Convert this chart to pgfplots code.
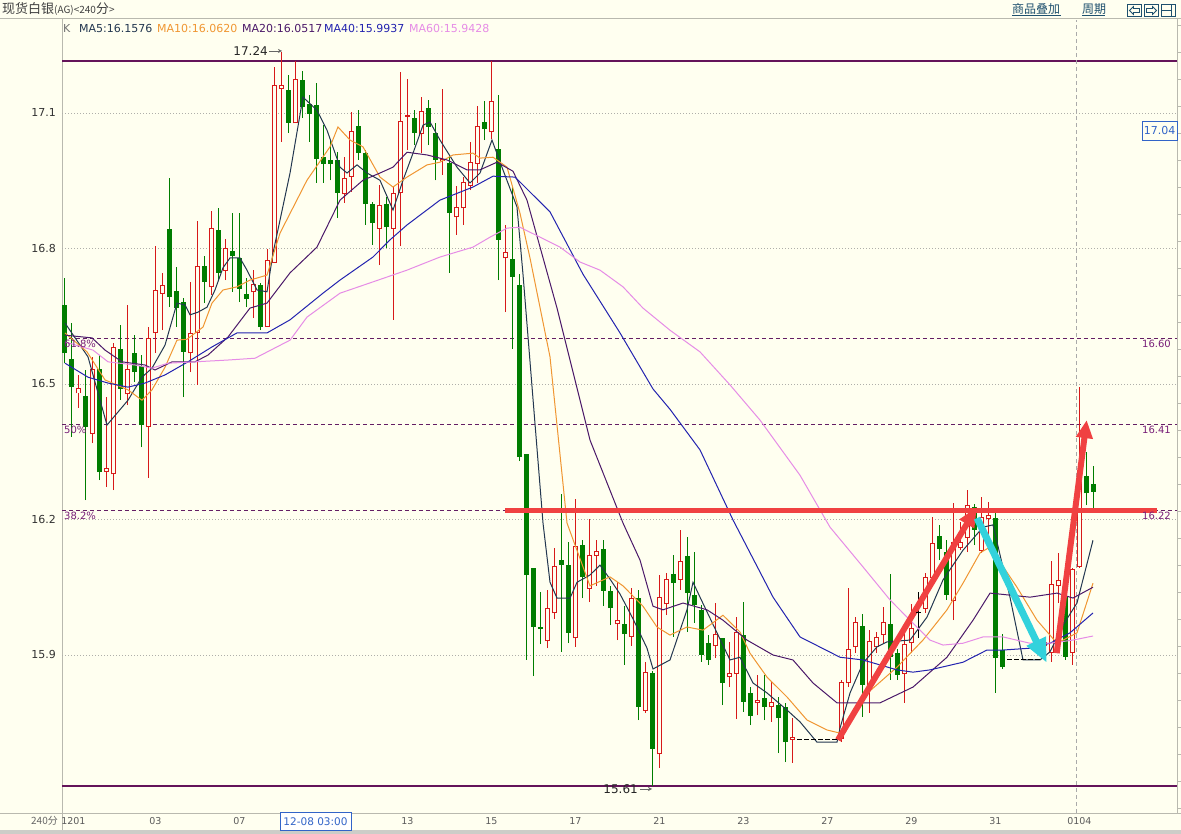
\documentclass[border=0pt]{standalone}
\usepackage{pgfplots}
\pgfplotsset{compat=1.18}
\usepackage{pgfplotstable}
\usepackage{fontspec}
\setmainfont{DejaVu Sans}
\newfontfamily\cjk{Noto Sans CJK SC}
\usetikzlibrary{arrows.meta}
\definecolor{bg}{RGB}{255,255,240}
\definecolor{cred}{RGB}{215,25,25}
\definecolor{cgreen}{RGB}{0,125,0}
\definecolor{ma5c}{RGB}{35,55,80}
\definecolor{ma10c}{RGB}{240,150,50}
\definecolor{ma20c}{RGB}{75,25,105}
\definecolor{ma40c}{RGB}{35,35,175}
\definecolor{ma60c}{RGB}{230,140,230}
\definecolor{hline}{RGB}{100,20,90}
\definecolor{fibc}{RGB}{100,30,100}
\definecolor{fibtxt}{RGB}{120,30,120}
\definecolor{tred}{RGB}{240,65,65}
\definecolor{tcyan}{RGB}{50,210,220}
\definecolor{framegray}{RGB}{185,185,175}
\definecolor{bandgray}{RGB}{205,205,200}
\definecolor{gridgray}{RGB}{175,175,170}
\definecolor{tickgray}{RGB}{50,50,50}
\definecolor{linkc}{RGB}{30,80,110}
\definecolor{boxblue}{RGB}{50,100,200}
\definecolor{crossgray}{RGB}{170,170,170}

% up (red, hollow) candles: index open high low close
\pgfplotstableread{
i o h l c
2 16.480 16.520 16.447 16.489
4 16.391 16.560 16.369 16.531
6 16.307 16.471 16.272 16.312
7 16.301 16.591 16.265 16.580
9 16.478 16.675 16.453 16.533
12 16.405 16.626 16.292 16.600
13 16.613 16.806 16.569 16.706
14 16.701 16.746 16.619 16.719
18 16.569 16.726 16.526 16.611
19 16.613 16.861 16.498 16.759
21 16.715 16.883 16.697 16.845
23 16.752 16.821 16.730 16.801
27 16.704 16.752 16.646 16.721
29 16.628 16.799 16.628 16.774
30 16.768 17.202 16.768 17.160
31 17.155 17.235 17.036 17.160
33 17.078 17.215 17.078 17.175
40 16.921 17.002 16.901 16.954
41 16.960 17.102 16.925 17.060
45 16.845 16.940 16.763 16.896
47 16.845 16.936 16.642 16.921
48 16.923 17.190 16.805 17.082
49 17.093 17.175 17.018 17.095
51 17.054 17.135 17.011 17.104
54 16.994 17.153 16.963 16.998
56 16.870 16.938 16.830 16.890
57 16.890 16.958 16.852 16.945
58 16.940 17.036 16.929 16.991
59 16.989 17.115 16.945 17.069
61 17.058 17.215 17.042 17.126
63 16.779 16.852 16.659 16.792
69 15.931 16.044 15.915 16.004
70 15.993 16.137 15.980 16.095
73 15.938 16.245 15.918 16.141
75 16.048 16.201 16.017 16.121
76 16.121 16.154 16.053 16.130
79 15.969 16.062 15.933 15.977
81 15.942 16.048 15.920 16.024
83 15.778 15.884 15.772 15.862
85 15.681 16.077 15.650 16.028
86 16.013 16.081 15.988 16.068
88 16.068 16.177 16.044 16.106
93 15.920 16.015 15.893 15.946
95 15.853 15.929 15.829 15.860
96 15.860 15.984 15.758 15.949
99 15.794 15.856 15.767 15.800
101 15.785 15.840 15.752 15.794
104 15.714 15.760 15.661 15.718
111 15.716 15.845 15.707 15.838
112 15.838 16.048 15.829 15.913
113 15.918 15.984 15.904 15.971
115 15.829 15.955 15.772 15.929
116 15.918 15.951 15.904 15.938
117 15.946 16.006 15.927 15.973
120 15.860 15.951 15.794 15.924
121 15.927 16.013 15.904 15.958
123 16.004 16.082 15.993 16.071
124 16.071 16.206 16.066 16.146
127 16.020 16.237 15.977 16.148
128 16.139 16.194 16.132 16.150
129 16.161 16.265 16.128 16.232
131 16.132 16.250 16.126 16.205
132 16.203 16.239 16.132 16.208
140 15.920 15.933 15.911 15.927
141 15.905 16.108 15.885 16.057
142 16.053 16.126 16.015 16.066
144 15.905 16.093 15.878 16.090
145 16.095 16.493 16.093 16.292
}\redc

% down (green, filled) candles
\pgfplotstableread{
i o h l c
0 16.675 16.735 16.546 16.569
1 16.555 16.635 16.383 16.493
3 16.473 16.531 16.243 16.405
5 16.533 16.564 16.287 16.305
8 16.578 16.631 16.465 16.489
10 16.569 16.609 16.504 16.526
11 16.540 16.564 16.360 16.409
15 16.843 16.956 16.670 16.692
16 16.706 16.759 16.626 16.668
17 16.681 16.690 16.471 16.571
20 16.761 16.783 16.679 16.726
22 16.841 16.889 16.730 16.746
24 16.794 16.878 16.704 16.783
25 16.779 16.878 16.681 16.710
26 16.699 16.735 16.670 16.688
28 16.719 16.724 16.619 16.626
32 17.151 17.184 17.056 17.078
34 17.173 17.193 17.089 17.113
35 17.120 17.140 17.036 17.098
36 17.118 17.166 16.945 16.998
37 17.002 17.073 16.945 16.987
38 16.996 17.040 16.951 16.987
39 16.996 17.013 16.868 16.923
42 17.071 17.106 16.996 17.011
43 17.011 17.018 16.852 16.898
44 16.898 16.903 16.808 16.856
46 16.898 16.914 16.801 16.847
50 17.089 17.106 17.029 17.056
52 17.111 17.129 17.029 17.069
53 17.056 17.078 16.951 16.996
55 16.989 17.007 16.746 16.878
60 17.080 17.126 17.040 17.064
62 17.020 17.140 16.730 16.819
64 16.777 16.936 16.577 16.737
65 16.719 16.743 16.329 16.338
66 16.345 16.345 15.889 16.077
67 16.093 16.093 15.853 15.962
68 15.962 16.040 15.924 15.957
71 16.110 16.256 15.907 16.099
72 16.099 16.150 15.926 15.949
74 16.143 16.154 16.026 16.073
77 16.134 16.154 16.008 16.042
78 16.042 16.053 15.966 16.004
80 15.969 16.008 15.878 15.946
82 16.026 16.044 15.756 15.785
84 15.860 15.865 15.610 15.692
87 16.079 16.121 15.940 16.059
89 16.119 16.161 15.951 16.037
90 16.033 16.128 15.971 16.011
91 16.000 16.011 15.885 15.900
92 15.927 15.944 15.878 15.889
94 15.938 15.938 15.789 15.838
97 15.944 16.017 15.774 15.796
98 15.816 15.829 15.745 15.765
100 15.805 15.856 15.756 15.785
102 15.789 15.807 15.683 15.760
103 15.785 15.794 15.663 15.707
114 15.964 15.991 15.763 15.834
118 15.969 16.079 15.845 15.896
119 15.904 15.913 15.845 15.856
125 16.163 16.188 16.110 16.134
126 16.128 16.154 16.022 16.033
130 16.228 16.234 16.143 16.177
133 16.203 16.214 15.816 15.893
134 15.911 15.946 15.869 15.873
143 16.028 16.028 15.889 15.896
146 16.296 16.349 16.232 16.258
147 16.279 16.318 16.223 16.261
}\greenc

% flat (no change) candles
\pgfplotstableread{
i h l c
105 15.712 15.712 15.712
106 15.712 15.712 15.712
107 15.712 15.712 15.712
108 15.712 15.712 15.712
109 15.712 15.712 15.712
110 15.712 15.712 15.712
122 16.040 15.938 15.995
135 15.889 15.889 15.889
136 15.889 15.889 15.889
137 15.889 15.889 15.889
138 15.889 15.889 15.889
139 15.889 15.889 15.889
}\flatc

\pgfplotstableread{
x y
0.14 16.635
3.43 16.560
6.14 16.409
9.14 16.464
11.14 16.515
12.57 16.535
14.43 16.586
16.14 16.679
17.29 16.675
18.0 16.653
19.14 16.659
20.43 16.670
21.57 16.708
22.71 16.757
23.71 16.779
25.14 16.779
26.14 16.752
27.57 16.708
29.0 16.704
29.86 16.790
32.29 16.967
34.14 17.135
36.14 17.106
37.57 17.062
39.43 16.980
40.43 16.967
41.86 16.985
43.29 16.967
45.14 16.951
47.0 16.885
48.43 16.951
49.86 17.011
51.29 17.073
52.29 17.080
53.71 17.040
56.14 16.980
58.0 16.945
59.43 16.967
61.14 17.040
62.71 16.974
64.71 16.892
65.57 16.743
67.0 16.467
68.43 16.192
69.43 16.061
70.43 16.026
72.29 16.026
73.29 16.061
75.14 16.077
76.57 16.099
78.0 16.068
79.43 16.035
81.29 15.980
83.29 15.915
84.14 15.869
86.57 15.889
89.0 16.000
89.86 16.061
90.86 16.028
93.29 15.949
95.14 15.889
96.57 15.895
98.43 15.838
100.43 15.816
103.29 15.778
105.14 15.752
107.57 15.707
110.43 15.707
110.86 15.738
112.29 15.816
114.14 15.882
116.14 15.918
117.57 15.929
120.86 15.933
123.29 15.984
125.57 16.066
128.43 16.132
131.29 16.183
132.71 16.188
135.14 16.028
137.0 15.889
139.43 15.889
140.86 15.907
142.71 15.966
144.71 16.015
147.0 16.154
}\maA

\pgfplotstableread{
x y
0.14 16.613
3.29 16.571
5.86 16.509
9.14 16.487
11.14 16.464
12.57 16.487
14.43 16.537
16.14 16.597
17.57 16.599
19.86 16.626
21.14 16.679
22.71 16.708
24.71 16.715
26.57 16.730
29.0 16.741
30.86 16.834
34.71 16.951
38.0 17.025
39.14 17.069
40.86 17.040
42.71 17.025
45.14 16.958
47.0 16.936
49.0 16.958
51.86 16.985
53.71 16.991
55.57 17.007
58.43 17.011
59.43 17.000
61.29 17.002
63.29 16.980
65.14 16.878
66.57 16.779
69.43 16.560
71.86 16.192
75.14 16.053
78.0 16.073
79.86 16.053
82.71 16.008
84.71 15.962
86.57 15.944
89.0 15.962
91.29 15.955
94.14 15.988
96.57 15.951
98.0 15.904
100.43 15.851
103.29 15.807
106.14 15.756
109.0 15.734
110.86 15.727
114.14 15.807
119.0 15.873
122.71 15.933
126.14 16.000
128.43 16.059
130.86 16.126
132.29 16.139
136.14 16.050
139.0 15.977
141.86 15.926
144.71 15.949
147.0 16.059
}\maB

\pgfplotstableread{
x y
0.14 16.608
4.0 16.602
5.86 16.575
8.29 16.549
11.57 16.542
13.0 16.531
15.43 16.549
18.71 16.549
20.57 16.564
23.43 16.604
26.57 16.668
29.0 16.679
32.29 16.746
36.14 16.803
39.43 16.907
42.71 16.951
45.14 16.967
47.0 16.980
49.0 17.013
51.86 17.007
54.71 16.996
57.57 16.974
59.43 16.974
61.86 16.991
64.14 16.971
66.14 16.907
70.43 16.668
75.14 16.376
79.86 16.192
82.29 16.110
84.14 16.008
85.57 16.000
88.43 16.015
91.86 16.000
94.14 15.977
97.57 15.933
101.29 15.900
104.14 15.889
107.0 15.838
110.43 15.794
116.57 15.794
121.29 15.829
126.14 15.895
129.86 15.977
132.29 16.037
138.0 16.028
141.86 16.037
144.14 16.026
147.0 16.050
}\maC

\pgfplotstableread{
x y
0.14 16.546
3.43 16.515
6.29 16.502
9.14 16.493
11.57 16.502
14.43 16.520
17.71 16.549
21.14 16.582
24.71 16.613
29.0 16.613
32.29 16.642
37.0 16.701
39.43 16.730
44.14 16.781
46.57 16.819
49.0 16.852
53.71 16.907
58.43 16.936
61.29 16.960
64.43 16.958
69.43 16.881
74.14 16.743
79.43 16.613
84.14 16.489
86.57 16.444
90.86 16.354
95.57 16.199
101.29 16.028
105.14 15.940
110.86 15.895
114.14 15.889
119.0 15.867
121.29 15.862
123.71 15.867
128.43 15.884
131.86 15.911
134.14 15.911
138.0 15.915
140.86 15.926
143.71 15.949
147.0 15.993
}\maD

\pgfplotstableread{
x y
0.14 16.593
4.14 16.575
6.29 16.549
10.14 16.542
12.57 16.535
14.86 16.546
18.71 16.549
23.43 16.553
27.29 16.557
32.29 16.597
34.71 16.648
39.43 16.701
44.14 16.726
49.0 16.752
53.71 16.781
58.43 16.803
60.86 16.825
63.29 16.845
65.14 16.847
68.0 16.825
70.86 16.803
73.71 16.770
76.57 16.752
79.86 16.715
82.71 16.668
86.57 16.619
90.86 16.571
95.14 16.498
99.43 16.420
105.14 16.298
109.43 16.183
114.14 16.095
118.0 16.022
120.86 15.977
123.71 15.933
125.57 15.922
128.43 15.926
131.29 15.940
134.14 15.940
138.0 15.926
140.86 15.926
144.14 15.933
147.0 15.942
}\maE

\begin{document}
\begin{tikzpicture}[x=1pt,y=1pt]
\useasboundingbox (0,0) rectangle (1181,834);
\fill[bg] (0,0) rectangle (1181,834);
\fill[bandgray] (0,0) rectangle (1181,4);
\draw[framegray] (0,815.5) -- (1181,815.5);
\draw[framegray] (0,21) -- (1181,21);
\draw[framegray] (62,4) -- (62,815.5);
\draw[framegray] (1177,21) -- (1177,815.5);
\foreach \yy in {809,782,755,728,701,674,647,620,593,566,539,512,485,458,431,404,377,350,323,296,269,242,215,188,161,134,107,80,53,26}
  \draw[framegray] (1177,\yy) -- (1181,\yy);

\begin{axis}[at={(62pt,21pt)}, anchor=south west, scale only axis,
  width=1115pt, height=793pt,
  xmin=-0.2857, xmax=159, ymin=15.5502, ymax=17.3058,
  axis line style={draw=none}, tick style={draw=none}, major tick length=0pt,
  ytick={15.9,16.2,16.5,16.8,17.1},
  yticklabels={15.9,16.2,16.5,16.8,17.1},
  yticklabel style={font=\fontsize{11}{11}\selectfont, text=tickgray, anchor=east, inner sep=0pt, xshift=-6pt},
  xtick={1.35,13.05,25.05,49.05,61.05,73.05,85.05,97.05,109.05,121.05,133.05,145.05},
  xticklabels={1201,03,07,13,15,17,21,23,27,29,31,0104},
  xticklabel style={font=\fontsize{9.5}{9.5}\selectfont, text=tickgray!80, anchor=north, inner sep=0pt, yshift=-4.5pt},
  ymajorgrids, grid style={gridgray, line width=0.8pt, dash pattern=on 1pt off 2pt},
]
% reference lines
\addplot[hline, line width=1.3pt, forget plot] coordinates {(-0.3,17.215) (159,17.215)};
\addplot[hline, line width=1.3pt, forget plot] coordinates {(-0.3,15.610) (159,15.610)};
\addplot[fibc, line width=1pt, dash pattern=on 4pt off 3pt, forget plot] coordinates {(-0.3,16.60) (159,16.60)};
\addplot[fibc, line width=1pt, dash pattern=on 4pt off 3pt, forget plot] coordinates {(-0.3,16.41) (159,16.41)};
\addplot[fibc, line width=1pt, dash pattern=on 4pt off 3pt, forget plot] coordinates {(-0.3,16.22) (159,16.22)};
\addplot[crossgray, line width=1pt, dash pattern=on 4pt off 3pt, forget plot] coordinates {(144.71,15.5502) (144.71,17.3058)};

% wicks
\addplot[draw=none, mark=none, forget plot, error bars/.cd, y dir=plus, y explicit, error mark=none,
  error bar style={draw=cgreen, line width=1pt}]
  table[x=i, y=l, y error plus expr=\thisrow{h}-\thisrow{l}] \greenc;
\addplot[draw=none, mark=none, forget plot, error bars/.cd, y dir=plus, y explicit, error mark=none,
  error bar style={draw=cred, line width=1pt}]
  table[x=i, y=l, y error plus expr=\thisrow{h}-\thisrow{l}] \redc;
\addplot[draw=none, mark=none, forget plot, error bars/.cd, y dir=plus, y explicit, error mark=none,
  error bar style={draw=black, line width=1pt}]
  table[x=i, y=l, y error plus expr=\thisrow{h}-\thisrow{l}] \flatc;
% bodies
\addplot[draw=none, mark=none, forget plot, error bars/.cd, y dir=plus, y explicit, error mark=none,
  error bar style={draw=cgreen, line width=5pt}]
  table[x=i, y=c, y error plus expr={max(\thisrow{o}-\thisrow{c},0.0025)}] \greenc;
\addplot[draw=none, mark=none, forget plot, error bars/.cd, y dir=plus, y explicit, error mark=none,
  error bar style={draw=cred, line width=5pt}]
  table[x=i, y expr=\thisrow{o}-0.0011, y error plus expr={\thisrow{c}-\thisrow{o}+0.0022}] \redc;
\addplot[draw=none, mark=none, forget plot, error bars/.cd, y dir=plus, y explicit, error mark=none,
  error bar style={draw=bg, line width=3pt}]
  table[x=i, y expr=\thisrow{o}+0.0011, y error plus expr={max(\thisrow{c}-\thisrow{o}-0.0022,0)}] \redc;
\addplot[only marks, mark=-, mark size=2.5pt, mark options={line width=1pt, draw=black}, forget plot]
  table[x=i, y=c] \flatc;

% moving averages
\addplot[ma5c, line width=1pt, forget plot] table[x=x,y=y] \maA;
\addplot[ma10c, line width=1pt, forget plot] table[x=x,y=y] \maB;
\addplot[ma20c, line width=1pt, forget plot] table[x=x,y=y] \maC;
\addplot[ma40c, line width=1pt, forget plot] table[x=x,y=y] \maD;
\addplot[ma60c, line width=1pt, forget plot] table[x=x,y=y] \maE;

% annotations
\addplot[tred, line width=5pt, forget plot] coordinates {(63,16.219) (156.1,16.219)};
\addplot[tred, line width=6pt, -{Triangle[length=20pt 0 0, width=16pt 0 0]}, forget plot]
  coordinates {(110.57,15.712) (130.43,16.228)};
\addplot[tcyan, line width=7pt, -{Triangle[length=24pt 0 0, width=20pt 0 0]}, forget plot]
  coordinates {(130.43,16.203) (140.38,15.883)};
\addplot[tred, line width=6pt, -{Triangle[length=18pt 0 0, width=16pt 0 0]}, forget plot]
  coordinates {(141.81,15.904) (146.10,16.420)};
\end{axis}

% header
\node[anchor=west, inner sep=0pt, text=black!75] at (2,825)
  {\cjk\fontsize{13}{13}\selectfont 现货白银\fontsize{10}{10}\selectfont(AG)<240\fontsize{13}{13}\selectfont 分\fontsize{10}{10}\selectfont>};
\node[anchor=west, inner sep=0pt, text=linkc] at (1012,825) {\cjk\fontsize{12}{12}\selectfont 商品叠加};
\draw[linkc] (1012,818.5) -- (1061,818.5);
\node[anchor=west, inner sep=0pt, text=linkc] at (1082,825) {\cjk\fontsize{12}{12}\selectfont 周期};
\draw[linkc] (1082,818.5) -- (1105,818.5);
\draw[linkc, line width=1pt] (1127.5,817.5) rectangle (1141.5,829.5);
\draw[linkc, line width=0.8pt] (1129.5,823.5) -- (1133.5,827.5) -- (1133.5,825.5) -- (1139.5,825.5) -- (1139.5,821.5) -- (1133.5,821.5) -- (1133.5,819.5) -- cycle;
\draw[linkc, line width=1pt] (1144.5,817.5) rectangle (1158.5,829.5);
\draw[linkc, line width=0.8pt] (1156.5,823.5) -- (1152.5,827.5) -- (1152.5,825.5) -- (1146.5,825.5) -- (1146.5,821.5) -- (1152.5,821.5) -- (1152.5,819.5) -- cycle;
\draw[linkc, line width=1pt] (1161.5,817.5) rectangle (1175.5,829.5);
\draw[linkc, line width=1pt] (1161.5,823.5) -- (1171,823.5);
\draw[linkc, line width=1pt] (1171,817.5) -- (1171,829.5);

% MA legend
\node[anchor=west, inner sep=0pt, text=black!55, font=\fontsize{11}{11}\selectfont] at (63,805) {K};
\node[anchor=west, inner sep=0pt, text=ma5c, font=\fontsize{11}{11}\selectfont] at (79,805) {MA5:16.1576};
\node[anchor=west, inner sep=0pt, text=ma10c, font=\fontsize{11}{11}\selectfont] at (157,805) {MA10:16.0620};
\node[anchor=west, inner sep=0pt, text=ma20c, font=\fontsize{11}{11}\selectfont] at (242,805) {MA20:16.0517};
\node[anchor=west, inner sep=0pt, text=ma40c, font=\fontsize{11}{11}\selectfont] at (324,805) {MA40:15.9937};
\node[anchor=west, inner sep=0pt, text=ma60c, font=\fontsize{11}{11}\selectfont] at (409,805) {MA60:15.9428};

% high / low marks
\node[anchor=east, inner sep=0pt, text=black!85, font=\fontsize{12}{12}\selectfont] at (268,783) {17.24};
\draw[black!60, -{Stealth[length=4pt,width=4pt]}] (269,783) -- (282,783);
\node[anchor=east, inner sep=0pt, text=black!85, font=\fontsize{12}{12}\selectfont] at (638,45) {15.61};
\draw[black!60, -{Stealth[length=4pt,width=4pt]}] (640,45) -- (652,45);

% fibonacci labels
\node[anchor=west, inner sep=0pt, text=fibtxt, font=\fontsize{10}{10}\selectfont] at (64,490) {61.8\%};
\node[anchor=west, inner sep=0pt, text=fibtxt, font=\fontsize{10}{10}\selectfont] at (64,404) {50\%};
\node[anchor=west, inner sep=0pt, text=fibtxt, font=\fontsize{10}{10}\selectfont] at (64,318) {38.2\%};
\node[anchor=east, inner sep=0pt, text=fibtxt, font=\fontsize{10}{10}\selectfont] at (1171,490) {16.60};
\node[anchor=east, inner sep=0pt, text=fibtxt, font=\fontsize{10}{10}\selectfont] at (1171,404) {16.41};
\node[anchor=east, inner sep=0pt, text=fibtxt, font=\fontsize{10}{10}\selectfont] at (1171,318) {16.22};

% price box and cursor time box
\node[draw=boxblue, fill=bg, text=boxblue, minimum width=35pt, minimum height=19pt, inner sep=1pt, font=\fontsize{11}{11}\selectfont] at (1159.5,703.5) {17.04};
\node[draw=boxblue, fill=white, text=boxblue, minimum width=71pt, minimum height=18pt, inner sep=1pt, font=\fontsize{10.5}{10.5}\selectfont] at (315.5,12.5) {12-08 03:00};
\node[anchor=east, inner sep=0pt, text=black!60] at (58,13) {\cjk\fontsize{10}{10}\selectfont 240分};
\end{tikzpicture}
\end{document}
